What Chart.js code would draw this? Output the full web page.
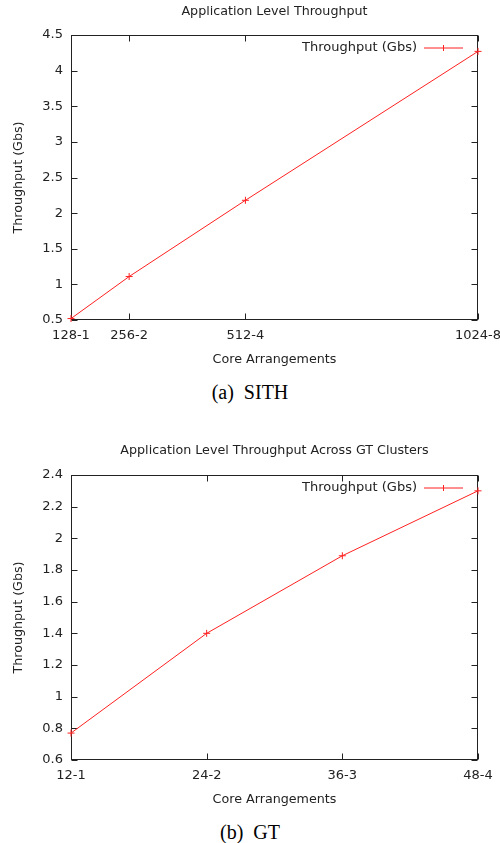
<!DOCTYPE html>
<html>
<head>
<meta charset="utf-8">
<script src="https://cdn.jsdelivr.net/npm/chart.js@4"></script>
<style>
body { margin: 0; background: #fff; width: 500px; height: 843px; position: relative; overflow: hidden; }
.box { position: absolute; left: 0; width: 500px; height: 372px; }
.cap { position: absolute; left: 0; width: 500px; text-align: center; font-family: 'Liberation Serif', serif; font-size: 20px; color: #000; }
</style>
</head>
<body>
<div class="box" style="top:0"><canvas id="sith"></canvas></div>
<div class="cap" style="top:381px">(a)&nbsp; SITH</div>
<div class="box" style="top:440px"><canvas id="gt"></canvas></div>
<div class="cap" style="top:821px">(b)&nbsp; GT</div>
<script>
// SITH
const sithCores = [128, 256, 512, 1024];
const sithLabels = ['128-1', '256-2', '512-4', '1024-8'];
const sithThroughput = [0.52, 1.11, 2.18, 4.27];

// GT clusters
const gtCores = [12, 24, 36, 48];
const gtLabels = ['12-1', '24-2', '36-3', '48-4'];
const gtThroughput = [0.77, 1.40, 1.89, 2.30];

const seriesName = 'Throughput (Gbs)';
const ink = '#222';
const red = '#ff2020';

Chart.defaults.font.family = 'DejaVu Sans';
Chart.defaults.font.size = 13;
Chart.defaults.color = ink;

// gnuplot style frame with inward ticks, title over the plot, key inside top right
const gnuplotFrame = {
    id: 'gnuplotFrame',
    beforeDatasetsDraw(chart) {
        const { ctx, chartArea: a, scales } = chart;
        const L = Math.round(a.left) + 0.5, R = Math.round(a.right) - 0.5;
        const T = Math.round(a.top) + 0.5, B = Math.round(a.bottom) - 0.5;
        ctx.save();
        ctx.strokeStyle = ink;
        ctx.lineWidth = 1;
        ctx.strokeRect(L, T, R - L, B - T);
        ctx.beginPath();
        scales.x.ticks.forEach(t => {
            const px = Math.round(scales.x.getPixelForValue(t.value)) + 0.5;
            ctx.moveTo(px, B); ctx.lineTo(px, B - 6);
            ctx.moveTo(px, T); ctx.lineTo(px, T + 6);
        });
        scales.y.ticks.forEach(t => {
            const py = Math.round(scales.y.getPixelForValue(t.value)) + 0.5;
            ctx.moveTo(L, py); ctx.lineTo(L + 6, py);
            ctx.moveTo(R, py); ctx.lineTo(R - 6, py);
        });
        ctx.stroke();
        ctx.restore();
    },
    afterDraw(chart, args, opts) {
        const { ctx, chartArea: a } = chart;
        ctx.save();
        ctx.font = '12.7px "DejaVu Sans"';
        ctx.fillStyle = ink;
        ctx.textAlign = 'center';
        ctx.textBaseline = 'middle';
        ctx.fillText(opts.title, (a.left + a.right) / 2, opts.titleY);

        const y = Math.round(a.top + 13);
        ctx.font = '13px "DejaVu Sans"';
        ctx.textAlign = 'right';
        ctx.fillText(seriesName, a.right - 61, y);
        ctx.strokeStyle = red;
        ctx.lineWidth = 1;
        ctx.beginPath();
        ctx.moveTo(a.right - 54, y); ctx.lineTo(a.right - 15, y);
        const cx = Math.round(a.right - 35) + 0.5;
        ctx.moveTo(cx, y - 3); ctx.lineTo(cx, y + 3);
        ctx.stroke();
        ctx.restore();
    }
};

function makeChart(id, title, titleY, cores, labels, values, yMin, yMax, yStep) {
    const ctx = document.getElementById(id).getContext('2d');
    return new Chart(ctx, {
        type: 'line',
        data: {
            datasets: [{
                label: seriesName,
                data: cores.map((c, i) => ({ x: c, y: values[i] })),
                borderColor: red,
                backgroundColor: red,
                borderWidth: 1,
                pointStyle: 'cross',
                pointRadius: 3.5,
                pointBorderWidth: 1,
                tension: 0,
                clip: false
            }]
        },
        plugins: [gnuplotFrame],
        options: {
            responsive: true,
            maintainAspectRatio: false,
            animation: false,
            layout: { padding: { left: 0, right: 22, top: 35, bottom: 0 } },
            plugins: {
                legend: { display: false },
                tooltip: { enabled: false },
                title: { display: false },
                gnuplotFrame: { title: title, titleY: titleY }
            },
            scales: {
                x: {
                    type: 'linear',
                    min: cores[0],
                    max: cores[cores.length - 1],
                    afterBuildTicks: s => { s.ticks = cores.map(v => ({ value: v })); },
                    afterFit: s => { s.height = 52; s.paddingLeft = 0; s.paddingRight = 0; },
                    grid: { display: false, drawTicks: false },
                    border: { display: false },
                    ticks: {
                        autoSkip: false,
                        maxRotation: 0,
                        padding: 8,
                        color: ink,
                        callback: v => labels[cores.indexOf(v)]
                    },
                    title: { display: true, text: 'Core Arrangements', color: ink, font: { size: 12.7 }, padding: { top: 0, bottom: 5 } }
                },
                y: {
                    min: yMin,
                    max: yMax,
                    afterFit: s => { s.width = 71; s.paddingTop = 0; s.paddingBottom = 0; },
                    grid: { display: false, drawTicks: false },
                    border: { display: false },
                    ticks: { stepSize: yStep, padding: 8, color: ink, callback: v => String(+v.toFixed(2)) },
                    title: { display: true, text: 'Throughput (Gbs)', color: ink, font: { size: 12.7 }, padding: { top: 11, bottom: 0 } }
                }
            }
        }
    });
}

makeChart('sith', 'Application Level Throughput', 12,
    sithCores, sithLabels, sithThroughput, 0.5, 4.5, 0.5);
makeChart('gt', 'Application Level Throughput Across GT Clusters', 11,
    gtCores, gtLabels, gtThroughput, 0.6, 2.4, 0.2);
</script>
</body>
</html>
